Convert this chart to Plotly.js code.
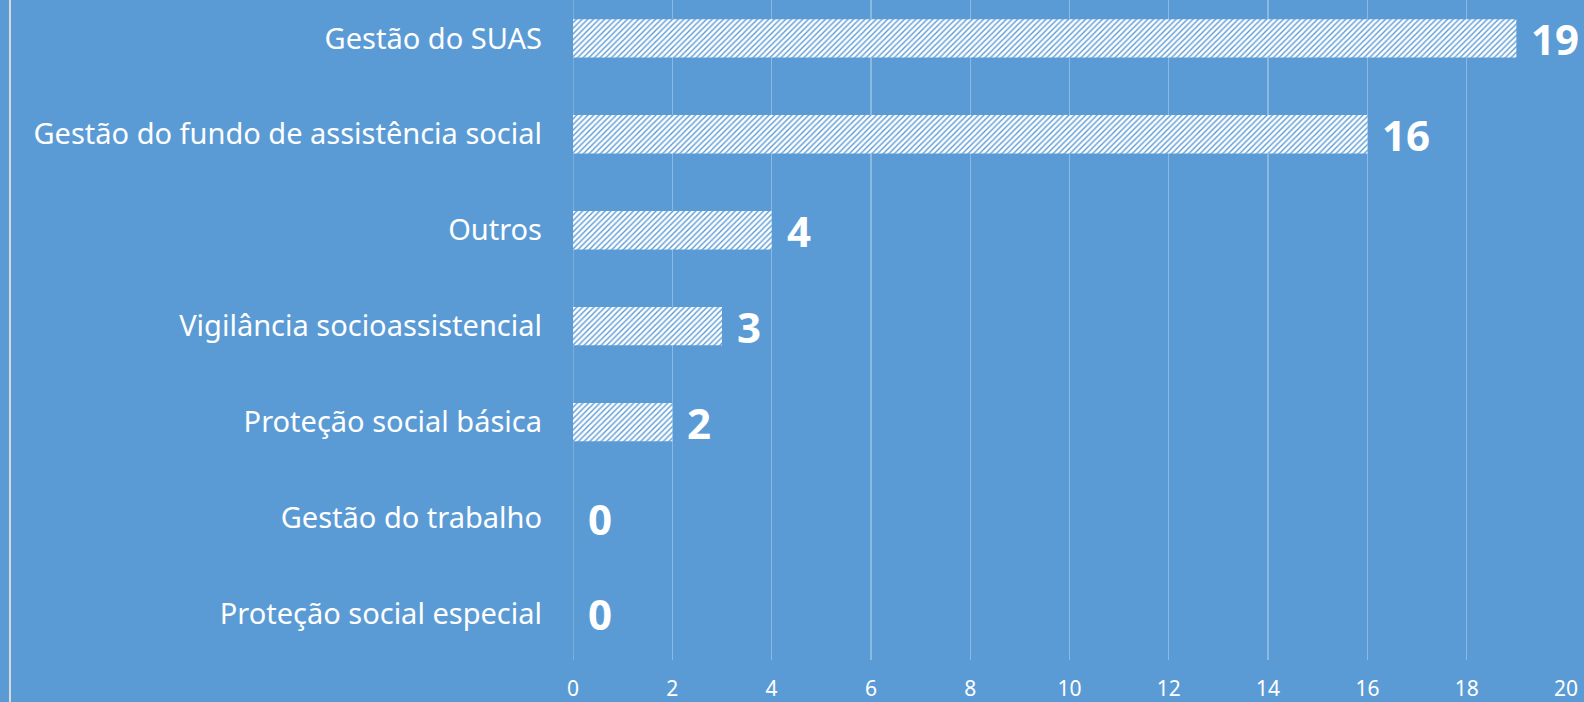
<!DOCTYPE html>
<html><head><meta charset="utf-8">
<script src="https://cdn.plot.ly/plotly-3.0.1.min.js"></script>
<style>html,body{margin:0;padding:0;background:#5B9BD5;}#chart{width:1584px;height:702px;}</style>
</head><body><div id="chart"></div>
<script>
const categories = ["Proteção social especial","Gestão do trabalho","Proteção social básica","Vigilância socioassistencial","Outros","Gestão do fundo de assistência social","Gestão do SUAS"];
const values = [0,0,2,3,4,16,19];
const xTicks = [0,2,4,6,8,10,12,14,16,18,20];

const bg = '#5B9BD5';
const font = "'Noto Sans', 'Open Sans', sans-serif";

const trace = {
  type: 'bar', orientation: 'h', x: values, y: categories,
  width: 0.4,
  marker: {color: 'white', line: {width: 0},
    pattern: {shape: '/', bgcolor: 'white', fgcolor: bg, size: 4, solidity: 0.35, fillmode: 'replace'}},
  hoverinfo: 'none'
};

const annotations = values.map((v,i)=>({
  x: v, y: categories[i], xref: 'x', yref: 'y', text: String(v),
  showarrow: false, xanchor: 'left', yanchor: 'middle', xshift: 13,
  font: {family: font, size: 42, color: 'white', weight: 'bold'}, bgcolor: bg
}));

const layout = {
  width: 1584, height: 702,
  paper_bgcolor: bg, plot_bgcolor: bg,
  margin: {l: 573, r: 18, t: 0, b: 42},
  showlegend: false,
  bargap: 0.6,
  xaxis: {range: [0,20], tickvals: xTicks, ticktext: xTicks.map(String),
    showgrid: true, gridcolor: 'rgba(255,255,255,0.3)', gridwidth: 1.3,
    zeroline: false, showline: false, ticks: '', ticklabelstandoff: 14,
    tickfont: {family: font, size: 21, color: 'white'}, fixedrange: true},
  yaxis: {type: 'category', categoryorder: 'array', categoryarray: categories,
    range: [-0.48, 6.4], showgrid: false, zeroline: false, showline: false,
    ticks: '', ticklabelstandoff: 30,
    tickfont: {family: font, size: 29, color: 'white'}, fixedrange: true},
  annotations: annotations,
  shapes: [
    {type: 'line', xref: 'x', yref: 'paper', x0: 0, x1: 0, y0: 0, y1: 1, line: {color: 'rgba(255,255,255,0.3)', width: 1.3}, layer: 'below'},
    {type: 'line', xref: 'paper', yref: 'paper', x0: -0.567, x1: -0.567, y0: -0.07, y1: 1, line: {color: '#D9D9D9', width: 2}}
  ]
};

Plotly.newPlot('chart', [trace], layout, {staticPlot: true});
</script></body></html>
